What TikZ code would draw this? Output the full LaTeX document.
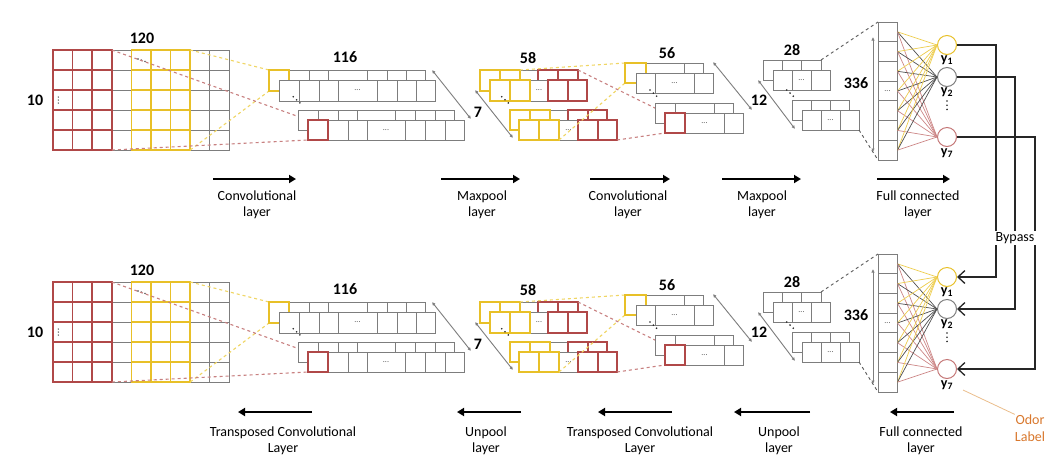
\documentclass[tikz,border=0pt]{standalone}
\usepackage{fontspec}
\setmainfont{Carlito}
\usetikzlibrary{arrows.meta}
\definecolor{ycol}{RGB}{232,192,40}
\definecolor{rcol}{RGB}{176,72,72}
\definecolor{gcol}{RGB}{125,125,125}
\definecolor{ydash}{RGB}{240,214,100}
\definecolor{rdash}{RGB}{200,128,128}
\definecolor{ylink}{RGB}{238,206,80}
\definecolor{rlink}{RGB}{205,135,135}
\definecolor{klink}{RGB}{80,80,80}
\definecolor{ocol}{RGB}{217,120,45}
\definecolor{oline}{RGB}{235,190,140}
\tikzset{
  gcell/.style={draw=gcol, line width=1pt, fill=white},
  ycell/.style={draw=ycol, line width=1.6pt},
  rcell/.style={draw=rcol, line width=1.6pt},
  ydl/.style={draw=ydash, dashed, line width=1.1pt},
  rdl/.style={draw=rdash, dashed, line width=1.1pt},
  kdl/.style={draw=gcol!70!black, dashed, line width=0.9pt},
  dimarr/.style={draw=gcol, line width=0.9pt, {Latex[length=3.5pt,width=3.5pt]}-{Latex[length=3.5pt,width=3.5pt]}},
  num/.style={font=\fontsize{16}{17}\selectfont\bfseries, inner sep=0pt},
  celldots/.style={font=\fontsize{8}{8}\selectfont, text=black!70, inner sep=0pt},
  lab/.style={font=\fontsize{14}{16}\selectfont, align=center, inner sep=0pt},
  flow/.style={line width=2pt, -{Triangle[length=7pt,width=8pt]}},
  outn/.style={circle, minimum size=19pt, inner sep=0pt, line width=1pt, fill=white},
  fccell/.style={draw=gcol, line width=1pt, fill=white, minimum width=19pt, minimum height=19.71pt, inner sep=0pt},
  ylab/.style={font=\fontsize{14}{14}\selectfont\bfseries, inner sep=0pt},
  link/.style={line width=0.7pt},
  bypass/.style={line width=1.3pt, draw=black!85},
}
\newcommand\cellrow[4]{\foreach \a/\b in {#4}{\draw[#1] (\a,#2) rectangle (\b,#3);}}
\newcommand\diagdots[2]{\foreach \k in {0,1,2}{\fill[black!85] ({#1+3.3*\k},{#2+3.1*\k}) circle (0.9pt);}}
\newcommand\netpart[1]{%
  % input grid
  \foreach \i in {0,...,8}{\foreach \j in {0,...,4}{\draw[gcell] ({53+19.6*\i},{50+20*\j}) rectangle ++(19.6,20);}}
  \foreach \i in {0,1,2}{\foreach \j in {0,...,4}{\draw[rcell] ({53+19.6*\i},{50+20*\j}) rectangle ++(19.6,20);}}
  \foreach \i in {4,5,6}{\foreach \j in {0,...,4}{\draw[ycell] ({53+19.6*\i},{50+20*\j}) rectangle ++(19.6,20);}}
  \node[num] (#1n10) at (35,100) {10};
  \node[num] (#1n120) at (142,38) {120};
  \foreach \k in {0,1,2}{\fill[black!80] (58.3,{97+3*\k}) circle (0.7pt);}
  \foreach \k in {0,1,2}{\fill[black!80] ({138+3.5*\k},{59+1.2*\k}) circle (0.8pt);}
  \coordinate (#1gR) at (111.8,50);
  \coordinate (#1gRb) at (111.8,150);
  \coordinate (#1gY) at (190.2,50);
  \coordinate (#1gYb) at (190.2,150);
  \coordinate (#1sY) at (269,70);
  \coordinate (#1sYb) at (269,91);
  \coordinate (#1sR) at (308,120);
  \coordinate (#1sRb) at (308,140);
  \draw[ydl] (#1gY) -- (#1sY);
  \draw[ydl] (#1gYb) -- (#1sYb);
  \draw[rdl] (#1gR) -- (#1sR);
  \draw[rdl] (#1gRb) -- (#1sRb);
  % 116 maps
  \cellrow{gcell}{70}{91}{269/289,289/309,309/328,328/367,367/387,387/406,406/425}
  \draw[ycell] (269,70) rectangle (289,91);
  \cellrow{gcell}{80}{101}{279/299,299/319,319/338,338/377,377/397,397/416,416/435}
  \node[celldots] (#1d116a) at (357.5,90.5) {...};
  \cellrow{gcell}{110}{130}{298/318,318/338,338/357,357/395,395/415,415/435,435/454}
  \cellrow{gcell}{120}{140}{308/328,328/348,348/367,367/405,405/425,425/445,445/464}
  \draw[rcell] (308,120) rectangle (328,140);
  \node[celldots] (#1d116b) at (386,130) {...};
  \diagdots{293.3}{96.7}
  \node[num] (#1n116) at (345,57) {116};
  \coordinate (#1a7s) at (432,70);
  \coordinate (#1a7e) at (471,119);
  \draw[dimarr] (#1a7s) -- (#1a7e);
  \node[num] (#1n7) at (478,112) {7};
  % 58 maps
  \cellrow{gcell}{70}{91}{480/500,500/520,520/538,538/558,558/578}
  \cellrow{ycell}{70}{91}{480/500,500/520}
  \cellrow{rcell}{70}{91}{538/558,558/578}
  \cellrow{gcell}{80}{101}{490/510,510/530,530/548,548/568,568/587}
  \cellrow{ycell}{80}{101}{490/510,510/530}
  \cellrow{rcell}{80}{101}{548/568,568/587}
  \node[celldots] (#1d58a) at (539,90.5) {...};
  \cellrow{gcell}{110}{130}{510/530,530/550,550/568,568/588,588/607}
  \cellrow{ycell}{110}{130}{510/530,530/550}
  \cellrow{rcell}{110}{130}{568/588,588/607}
  \cellrow{gcell}{120}{140}{519/539,539/559,559/578,578/598,598/617}
  \cellrow{ycell}{120}{140}{519/539,539/559}
  \cellrow{rcell}{120}{140}{578/598,598/617}
  \node[celldots] (#1d58b) at (568.5,130) {...};
  \diagdots{501.7}{96.7}
  \node[num] (#1n58) at (528,58) {58};
  \coordinate (#1b7s) at (475,90);
  \coordinate (#1b7e) at (513,138);
  \draw[dimarr] (#1b7s) -- (#1b7e);
  \coordinate (#1mY) at (520,70);
  \coordinate (#1mYb) at (559,140);
  \coordinate (#1mR) at (578,70);
  \coordinate (#1mRb) at (617,140);
  \coordinate (#1tY) at (625,63);
  \coordinate (#1tYb) at (625,83);
  \coordinate (#1tR) at (665,113);
  \coordinate (#1tRb) at (665,133);
  \draw[ydl] (#1mY) -- (#1tY);
  \draw[ydl] (#1mYb) -- (#1tYb);
  \draw[rdl] (#1mR) -- (#1tR);
  \draw[rdl] (#1mRb) -- (#1tRb);
  % 56 maps
  \cellrow{gcell}{63}{83}{625/646,646/684,684/703}
  \draw[ycell] (625,63) rectangle (646,83);
  \cellrow{gcell}{73}{93}{636/655,655/694,694/713}
  \node[celldots] (#1d56a) at (674.5,83) {...};
  \cellrow{gcell}{103}{123}{655/675,675/714,714/733}
  \cellrow{gcell}{113}{133}{665/685,685/724,724/743}
  \draw[rcell] (665,113) rectangle (685,133);
  \node[celldots] (#1d56b) at (704.5,123) {...};
  \diagdots{650}{90}
  \node[num] (#1n56) at (667,53) {56};
  \coordinate (#1c12s) at (713,62);
  \coordinate (#1c12e) at (752,110);
  \draw[dimarr] (#1c12s) -- (#1c12e);
  \node[num] (#1n12) at (759,100) {12};
  % 28 maps
  \cellrow{gcell}{60}{80}{763/782,782/801,801/821}
  \cellrow{gcell}{70}{90}{773/792,792/811,811/830}
  \node[celldots] (#1d28a) at (801.5,80) {...};
  \cellrow{gcell}{100}{120}{792/811,811/830,830/849}
  \cellrow{gcell}{110}{130}{802/821,821/840,840/859}
  \node[celldots] (#1d28b) at (830.5,120) {...};
  \diagdots{786.7}{90}
  \node[num] (#1n28) at (792,50) {28};
  \coordinate (#1d12s) at (758,80);
  \coordinate (#1d12e) at (795,129);
  \draw[dimarr] (#1d12s) -- (#1d12e);
  \coordinate (#1fR) at (821,60);
  \coordinate (#1fRb) at (859,130);
  \coordinate (#1fcT) at (878,22);
  \coordinate (#1fcB) at (878,160);
  \draw[kdl] (#1fR) -- (#1fcT);
  \draw[kdl] (#1fRb) -- (#1fcB);
  % fully connected column
  \foreach \i in {1,...,7}{\node[fccell] (#1fc\i) at (887.5,{22+19.714*(\i-0.5)}) {};}
  \node[celldots] (#1dfc) at (#1fc4) {...};
  \node[num] (#1n336) at (856,83) {336};
  \coordinate (#1e336s) at (873,37);
  \coordinate (#1e336e) at (873,152);
  \draw[dimarr] (#1e336s) -- (#1e336e);
  % outputs
  \node[outn, draw=ycol] (#1y1) at (947,45) {};
  \node[outn, draw=gcol] (#1y2) at (947,77) {};
  \node[outn, draw=rcol!75] (#1y7) at (947,137) {};
  \foreach \i in {1,...,7}{
    \draw[link, draw=ylink] (#1fc\i.east) -- (#1y1.west);
    \draw[link, draw=klink] (#1fc\i.east) -- (#1y2.west);
    \draw[link, draw=rlink] (#1fc\i.east) -- (#1y7.west);
  }
  \node[ylab] (#1ly1) at (947,60) {y\textsubscript{1}};
  \node[ylab] (#1ly2) at (947,92) {y\textsubscript{2}};
  \foreach \k in {0,1,2}{\fill[black!85] (947,{101+4.2*\k}) circle (0.9pt);}
  \node[ylab] (#1ly7) at (947,153) {y\textsubscript{7}};
}
\begin{document}
\begin{tikzpicture}[x=1pt,y=-1pt]
\useasboundingbox (0,0) rectangle (1055,467);
\fill[white] (0,0) rectangle (1055,467);
\begin{scope}
\netpart{t}
\end{scope}
\begin{scope}[yshift=-232pt]
\netpart{b}
\end{scope}
% encoder arrows
\foreach \n/\s/\e/\c/\t in {1/213/296/257/{Convolutional\\layer},2/441/520/482/{Maxpool\\layer},3/590/670/628/{Convolutional\\layer},4/722/801/762/{Maxpool\\layer},5/877/950/918/{Full connected\\layer}}{
  \coordinate (ua\n s) at (\s,179);
  \coordinate (ua\n e) at (\e,179);
  \draw[flow] (ua\n s) -- (ua\n e);
  \node[lab] (ul\n) at (\c,205) {\t};
}
% decoder arrows
\foreach \n/\s/\e/\c/\t in {1/238/312/283/{Transposed Convolutional\\Layer},2/457/521/486/{Unpool\\layer},3/598/672/640/{Transposed Convolutional\\Layer},4/734/810/779/{Unpool\\layer},5/890/954/921/{Full connected\\layer}}{
  \coordinate (la\n s) at (\e,412);
  \coordinate (la\n e) at (\s,412);
  \draw[flow] (la\n s) -- (la\n e);
  \node[lab] (ll\n) at (\c,441) {\t};
}
% bypass
\coordinate (bx1) at (996,0);
\coordinate (bx2) at (1015,0);
\coordinate (bx7) at (1035,0);
\draw[bypass, -{Straight Barb[length=7pt,width=13pt]}] (ty1.east) -- (ty1.east -| bx1) |- (by1.east);
\draw[bypass, -{Straight Barb[length=7pt,width=13pt]}] (ty2.east) -- (ty2.east -| bx2) |- (by2.east);
\draw[bypass, -{Straight Barb[length=7pt,width=13pt]}] (ty7.east) -- (ty7.east -| bx7) |- (by7.east);
\node[fill=white, font=\fontsize{14}{14}\selectfont, inner sep=1.5pt] (bp) at (1015,238) {Bypass};
% odor label
\node[font=\fontsize{14}{17}\selectfont, text=ocol, align=center, inner sep=0pt] (odor) at (1030,428) {Odor\\Label};
\coordinate (oy) at (963,390);
\draw[draw=oline, line width=0.8pt] (oy) -- (odor.north west);
\end{tikzpicture}
\end{document}
